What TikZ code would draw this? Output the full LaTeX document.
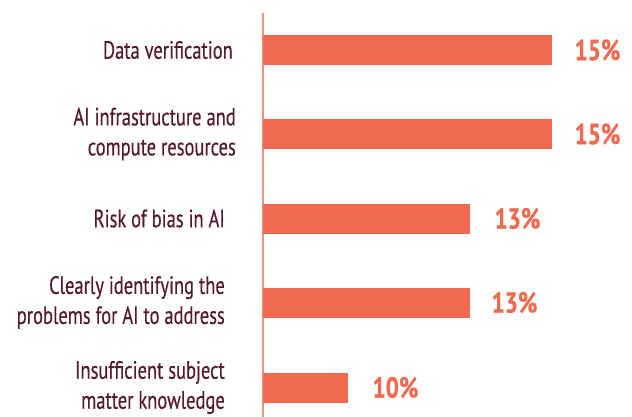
\documentclass[tikz,border=0pt]{standalone}
\usepackage{fontspec}
\setmainfont{PT Sans}[FakeStretch=0.74, FakeBold=0.4]
\newfontfamily\pctfont{PT Sans}[FakeStretch=0.8, FakeBold=0.8]
\usetikzlibrary{positioning}
\definecolor{barfill}{HTML}{F06A50}
\definecolor{axisline}{HTML}{F5937E}
\definecolor{labeltext}{HTML}{561B2B}

\begin{document}
\begin{tikzpicture}[
  x=1pt, y=-1pt,
  node distance=22pt,
  every node/.style={font=\fontsize{25}{30}\selectfont, inner sep=0pt},
  bar/.style={
    fill=barfill, anchor=west,
    minimum height=30pt, inner sep=0pt
  },
  cat/.style={text=labeltext, align=right},
  pct/.style={text=barfill, font=\pctfont\bfseries\fontsize{29}{30}\selectfont}
]
\useasboundingbox (0,0) rectangle (632,417);

% Axis
\coordinate (top) at (263,13);
\coordinate (bot) at (263,417);
\draw[axisline, line width=2pt] (top) -- (bot);

% Bars
\node[bar, minimum width=289pt] (verif) at (263,50) {};
\node[bar, minimum width=289pt] (infra) at (263,134) {};
\node[bar, minimum width=207pt] (bias) at (263,218.5) {};
\node[bar, minimum width=207pt] (problems) at (263,302.5) {};
\node[bar, minimum width=85pt] (knowledge) at (263,387.5) {};

% Values
\node[pct, right=22pt of verif] (verifval) {15\%};
\node[pct, right=22pt of infra] (infraval) {15\%};
\node[pct, right=24pt of bias] (biasval) {13\%};
\node[pct, right=21pt of problems] (problemsval) {13\%};
\node[pct, right=24pt of knowledge] (knowledgeval) {10\%};

% Labels
\node[cat, left=30pt of verif] (verifcat) {Data verification};
\node[cat, left=27pt of infra] (infracat) {AI infrastructure and\\compute resources};
\node[cat, left=38pt of bias] (biascat) {Risk of bias in AI};
\node[cat, left=38pt of problems] (problemscat) {Clearly identifying the\\problems for AI to address};
\node[cat, left=38pt of knowledge] (knowledgecat) {Insufficient subject\\matter knowledge};
\end{tikzpicture}
\end{document}
